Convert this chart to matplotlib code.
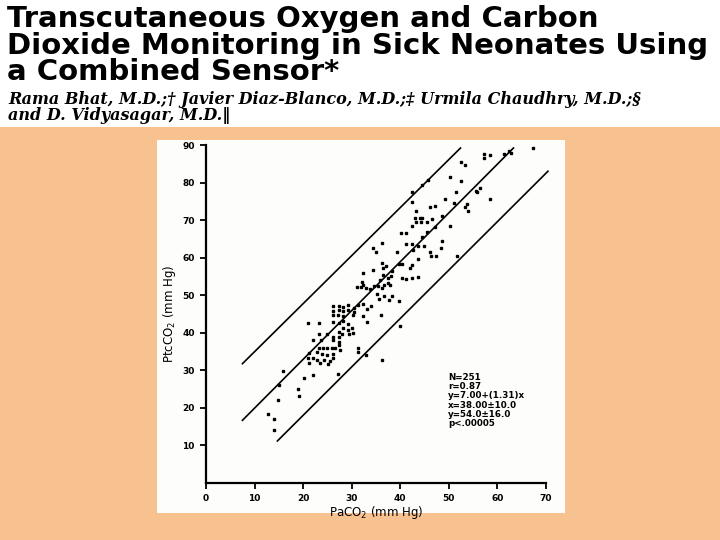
import matplotlib
matplotlib.use('Agg')
import matplotlib.pyplot as plt
from matplotlib.patches import Rectangle

# PaCO2 (x) and PtcCO2 (y)
pa_co2 = [15.9, 20.1, 22.0, 27.1, 15.1, 19.0, 19.2, 14.9, 12.8, 14.1, 14.1,
          26.2, 27.3, 28.3, 29.3, 30.4, 31.2, 26.2, 27.3, 28.3, 29.3, 30.4,
          26.2, 27.2, 28.3, 30.2, 21.1, 23.2, 26.2, 27.3, 28.2, 29.3,
          28.2, 29.3, 30.2, 27.3, 30.0, 23.2, 24.9, 26.1, 27.3, 26.2, 27.3,
          22.1, 23.6, 23.2, 24.0, 25.0, 25.9, 26.6, 27.3, 27.6,
          21.3, 22.8, 23.9, 25.0, 26.1, 21.1, 22.0, 22.8, 24.2, 25.6, 26.2,
          21.3, 23.4, 25.2,
          36.2, 34.4, 35.1, 39.3, 41.2, 42.4, 43.6, 42.6,
          36.2, 34.4, 36.4, 37.1, 39.7, 40.3, 41.9, 42.4, 43.6,
          38.3, 38.1, 37.4, 35.9, 36.4, 40.3, 41.2, 42.4, 43.6,
          32.3, 32.1, 31.1, 31.9, 32.4, 33.0, 33.8, 34.5, 35.5, 36.2, 36.7,
          37.4, 37.9, 38.3, 35.2, 35.7, 36.7, 37.6, 39.7,
          32.4, 33.9, 33.1, 32.4, 36.0, 33.1, 40.0, 28.0, 29.4,
          50.3, 52.4, 44.5, 42.4, 51.5, 49.3, 53.8, 46.1, 47.2, 42.4, 43.3,
          44.0, 43.1, 44.5, 44.3, 43.3, 42.4, 45.4, 46.5, 48.6, 47.2, 50.3,
          53.4, 53.9, 40.1, 41.2, 44.5, 45.5, 48.6, 44.8, 48.3, 46.2, 46.3,
          47.4, 51.7,
          67.4, 57.3, 58.4, 57.2, 61.4, 62.3, 62.8, 52.4, 53.4, 55.5, 55.8,
          56.4, 58.4, 51.1, 45.8,
          31.2, 31.2, 33.0, 36.2]
ptc_co2 = [29.8, 28.0, 28.7, 28.9, 26.0, 24.9, 23.1, 22.0, 18.2, 17.0, 14.0,
           47.0, 47.0, 46.8, 47.3, 46.6, 47.3, 45.7, 45.9, 45.7, 46.1, 45.6,
           44.6, 44.6, 44.3, 44.8, 42.6, 42.6, 42.8, 42.6, 43.1, 42.4,
           41.3, 40.6, 39.9, 40.1, 41.3, 39.7, 39.7, 38.8, 38.8, 37.9, 37.5,
           37.9, 37.9, 36.0, 36.0, 36.0, 36.0, 36.0, 36.6, 35.3,
           34.5, 34.8, 34.4, 33.9, 34.4, 33.1, 33.1, 32.8, 32.6, 32.4, 33.1,
           31.9, 31.9, 31.7,
           63.9, 62.5, 61.6, 61.6, 63.6, 63.6, 63.2, 61.9,
           58.6, 56.8, 57.2, 57.7, 58.3, 58.3, 57.2, 58.0, 59.6,
           56.3, 55.2, 54.5, 54.1, 55.4, 54.5, 54.3, 54.5, 54.8,
           55.9, 53.6, 52.1, 52.1, 52.6, 51.8, 51.5, 52.4, 52.4, 51.8, 52.7,
           53.3, 52.6, 49.7, 50.3, 49.0, 49.7, 48.8, 48.3,
           47.7, 47.1, 46.2, 44.4, 44.6, 42.8, 41.7, 39.7, 39.7,
           81.4, 80.5, 79.3, 77.6, 77.6, 75.6, 74.3, 73.4, 73.7, 74.7, 72.5,
           70.5, 70.5, 70.5, 69.4, 69.4, 68.5, 69.4, 70.3, 71.0, 68.1, 68.5,
           73.4, 72.5, 66.6, 66.6, 65.4, 66.7, 64.5, 63.2, 62.5, 61.6, 60.5,
           60.5, 60.5,
           89.3, 87.6, 87.4, 86.5, 87.6, 88.3, 88.0, 85.4, 84.7, 77.8, 77.4,
           78.5, 75.6, 74.5, 80.8,
           36.0, 34.8, 33.9, 32.6]

# regression line and +/- band, end points
upper_x = [7.5, 52.4]
upper_y = [31.7, 89.2]
mid_x = [7.5, 63.3]
mid_y = [16.6, 89.2]
lower_x = [14.7, 70.4]
lower_y = [11.1, 83.0]

x_ticks = [0, 10, 20, 30, 40, 50, 60, 70]
y_ticks = [10, 20, 30, 40, 50, 60, 70, 80, 90]

stats = ['N=251', 'r=0.87', 'y=7.00+(1.31)x', 'x=38.00\u00b110.0',
         'y=54.0\u00b116.0', 'p<.00005']

title_lines = ['Transcutaneous Oxygen and Carbon',
               'Dioxide Monitoring in Sick Neonates Using',
               'a Combined Sensor*']
author_lines = ['Rama Bhat, M.D.;\u2020 Javier Diaz-Blanco, M.D.;\u2021 Urmila Chaudhry, M.D.;\u00a7',
                'and D. Vidyasagar, M.D.\u2016']

W, H = 720, 540
fig = plt.figure(figsize=(7.2, 5.4), dpi=100, facecolor='#f7c190')

# white header band and white card behind the plot
fig.patches.append(Rectangle((0, 1 - 127 / H), 1, 127 / H, transform=fig.transFigure,
                             facecolor='white', edgecolor='none', zorder=0))
fig.patches.append(Rectangle((157 / W, 1 - 513 / H), 408 / W, 373 / H, transform=fig.transFigure,
                             facecolor='#fdfdfb', edgecolor='none', zorder=0))

for i, t in enumerate(title_lines):
    fig.text(7 / W, 1 - (27 + i * 26.5) / H, t, fontsize=21, fontweight='bold',
             family='DejaVu Sans', va='baseline', ha='left', zorder=2)
for i, t in enumerate(author_lines):
    fig.text(8 / W, 1 - (104 + i * 16) / H, t, fontsize=11.5, fontweight='bold',
             style='italic', family=['DejaVu Serif'],
             va='baseline', ha='left', zorder=2)

ax = fig.add_axes([206 / W, 1 - 482.6 / H, 340 / W, (482.6 - 145) / H])
ax.set_zorder(2)
ax.patch.set_alpha(0)
ax.set_xlim(0, 70)
ax.set_ylim(0, 90)

ax.plot(upper_x, upper_y, color='black', linewidth=1.2, clip_on=False)
ax.plot(mid_x, mid_y, color='black', linewidth=1.2, clip_on=False)
ax.plot(lower_x, lower_y, color='black', linewidth=1.2, clip_on=False)
ax.plot(pa_co2, ptc_co2, linestyle='none', marker='s', markersize=1.5,
        color='black', clip_on=False)

ax.spines['right'].set_visible(False)
ax.spines['top'].set_visible(False)
ax.spines['left'].set_linewidth(1.6)
ax.spines['bottom'].set_linewidth(1.6)
ax.set_xticks(x_ticks)
ax.set_yticks(y_ticks)
ax.tick_params(axis='both', direction='out', length=4, width=1.3, labelsize=6.5, pad=4)
for lab in ax.get_xticklabels() + ax.get_yticklabels():
    lab.set_fontweight('bold')

ax.set_xlabel('PaCO$_2$ (mm Hg)', fontsize=8.5, labelpad=1)
ax.set_ylabel('PtcCO$_2$ (mm Hg)', fontsize=8.5, labelpad=3)

ax.text(49.8, 29.3, '\n'.join(stats), fontsize=6.3, fontweight='bold',
        va='top', ha='left', linespacing=1.05)

fig.savefig('out.png', dpi=100, facecolor=fig.get_facecolor())
